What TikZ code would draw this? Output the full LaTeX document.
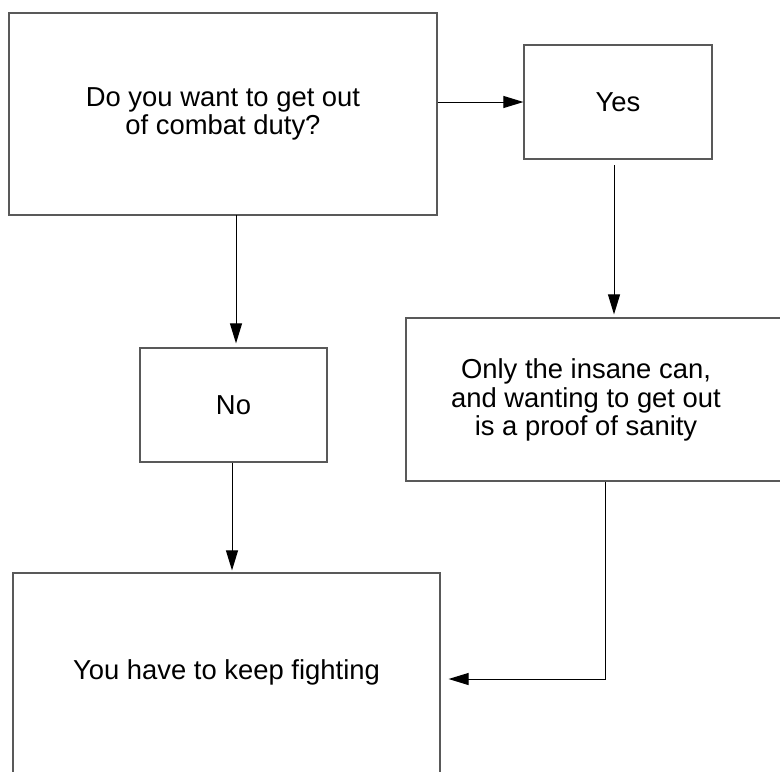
\documentclass[tikz,border=0pt]{standalone}
\usepackage{fontspec}
\setmainfont{Liberation Sans}
\usetikzlibrary{arrows.meta}

\begin{document}
\begin{tikzpicture}[x=0.02cm,y=-0.02cm,
            box/.style={draw=black!65,line width=0.7pt,rectangle,inner sep=0pt,align=center,font=\fontsize{15.6}{16}\selectfont},
            label text/.style={inner sep=0pt,align=center,font=\fontsize{15.6}{16}\selectfont},
            arr/.style={black,line width=0.55pt,-{Triangle[length=0.4cm,width=0.24cm]}}]
            \useasboundingbox (0,0) rectangle (780,771);
            \clip (0,0) rectangle (780,771);
            \node [box,minimum width=8.56cm,minimum height=4.04cm] (main) at (223,114) {Do you want to get out\\of combat duty?};
            \node [box,minimum width=3.76cm,minimum height=2.28cm] (yes) at (618,102) {Yes};
            \node [box,minimum width=3.74cm,minimum height=2.28cm] (no) at (233.5,405) {No};
            \node [box,minimum width=7.88cm,minimum height=3.26cm] (only) at (603,399.5) {};
            \node [label text] (onlytext) at (586,400) {Only the insane can,\\and wanting to get out\\is a proof of sanity};
            \node [box,minimum width=8.54cm,minimum height=4.04cm] (fight) at (226.5,674) {};
            \node [label text] (fighttext) at (226.5,672) {You have to keep fighting};
            \coordinate (bend) at (605,679);
            \coordinate (yesdown) at (614,159);
            \coordinate (nodown) at (236,215);
            \draw [arr] (main.east |- yes.west) -- (yes.west);
            \draw [arr,shorten <=0.12cm,shorten >=0.06cm] (yesdown) -- (yesdown |- only.north);
            \draw [arr,shorten >=0.08cm] (nodown) -- (nodown |- no.north);
            \draw [arr,shorten >=0.04cm] ([xshift=-0.03cm]no.south) -- ([xshift=-0.03cm]no.south |- fight.north);
            \draw [arr,shorten >=0.16cm] (only.south -| bend) -- (bend) -- (fight.east |- bend);
\end{tikzpicture}
\end{document}
